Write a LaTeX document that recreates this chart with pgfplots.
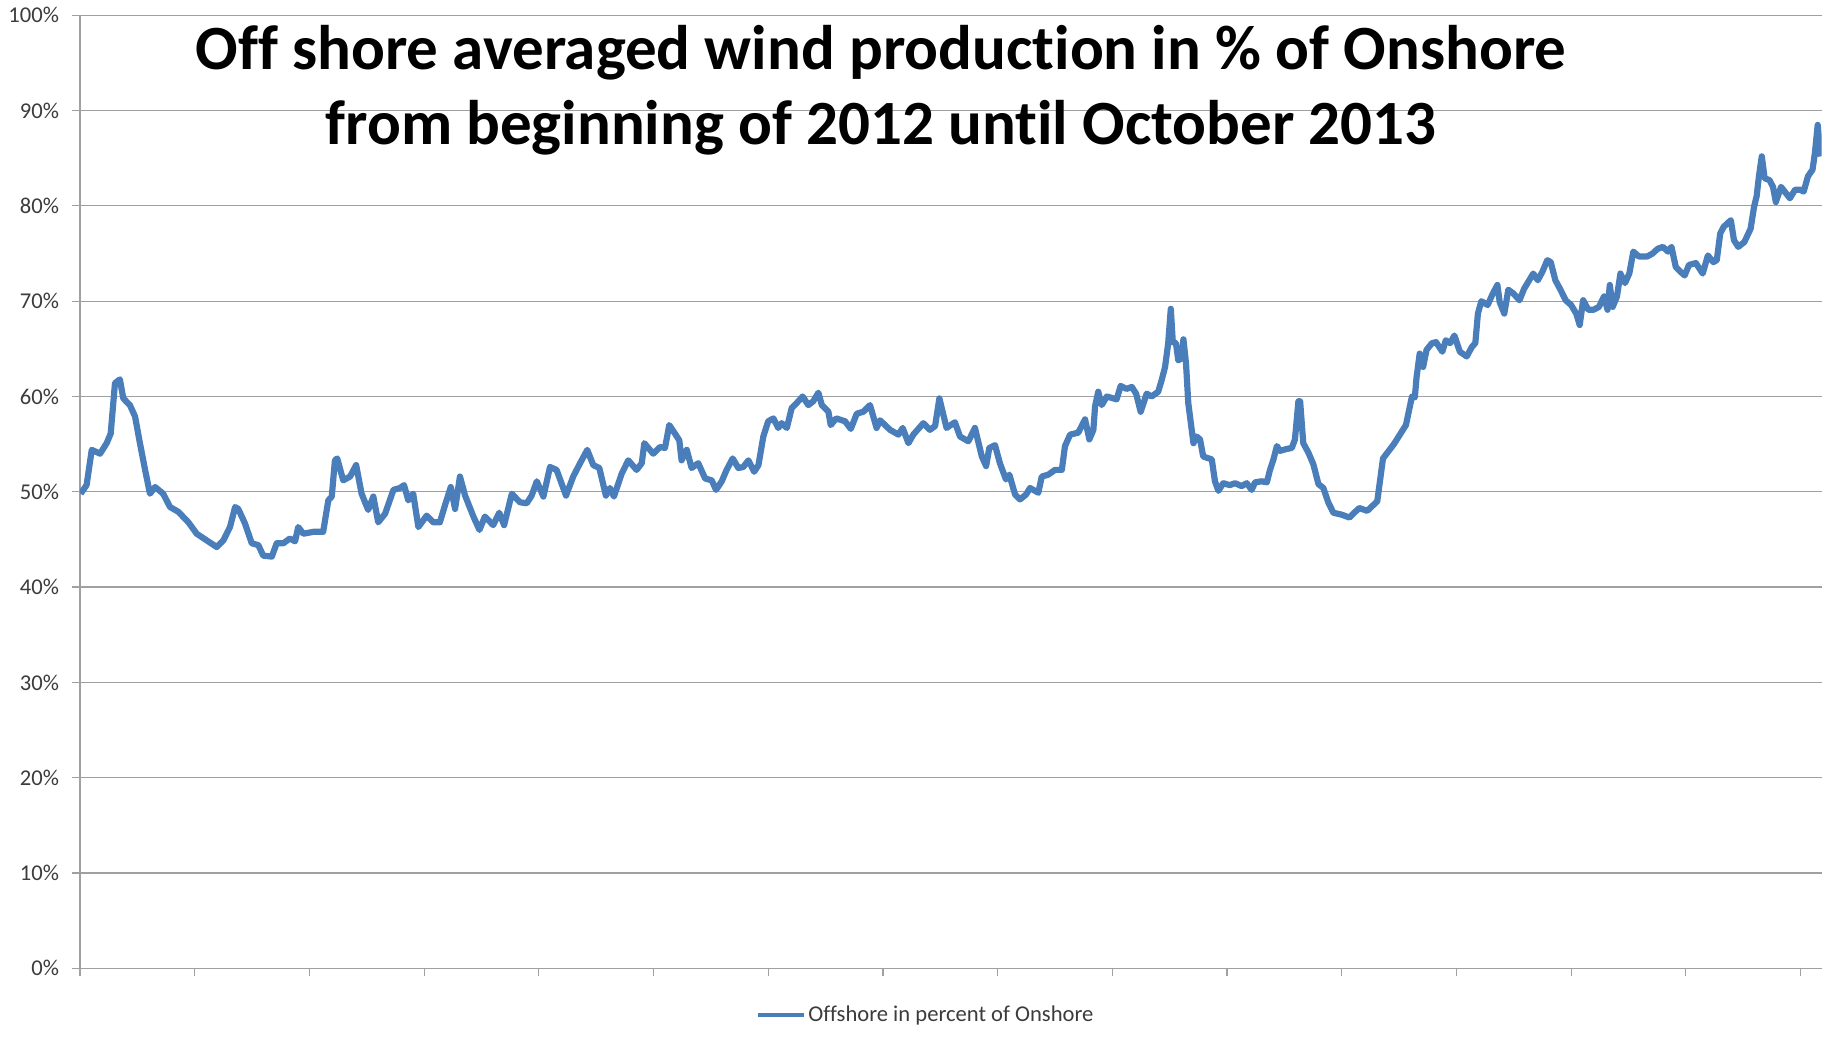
\documentclass[border=0pt]{standalone}
\usepackage{fontspec}
\setmainfont{Carlito}[Ligatures=NoCommon]
\usepackage{pgfplots}
\pgfplotsset{compat=1.18}
\usepackage{pgfplotstable}

\definecolor{linec}{RGB}{74,126,187}
\definecolor{gridc}{RGB}{160,160,160}
\definecolor{labc}{RGB}{60,60,60}

% day since 1 Jan 2012, offshore production in % of onshore
\pgfplotstableread{
day share
0.2 49.8
2.3 50.7
4.1 54.4
7.0 54.0
9.3 55.1
10.7 56.1
12.2 61.4
13.9 61.8
15.1 59.8
17.4 59.1
19.2 57.9
20.9 55.1
22.7 52.3
24.4 49.8
26.2 50.5
29.0 49.8
31.4 48.4
34.3 47.9
37.8 46.8
40.7 45.6
44.2 44.9
47.7 44.2
50.0 44.9
52.3 46.3
54.1 48.4
55.2 48.2
57.5 46.7
59.9 44.6
62.2 44.4
63.9 43.3
66.9 43.2
68.6 44.6
70.9 44.6
73.2 45.1
75.0 44.8
76.1 46.3
77.9 45.6
81.4 45.8
84.8 45.8
86.6 49.1
87.8 49.5
88.9 53.3
89.7 53.5
91.8 51.2
94.2 51.6
96.3 52.8
98.2 49.8
100.5 48.1
102.3 49.5
104.0 46.8
106.4 47.7
109.3 50.2
111.6 50.4
113.0 50.7
114.5 49.1
116.2 49.8
118.0 46.3
120.9 47.5
123.2 46.8
125.5 46.8
127.3 48.6
129.3 50.5
130.8 48.2
132.5 51.6
134.3 49.6
137.2 47.4
139.3 46.0
141.2 47.4
144.1 46.5
146.2 47.8
147.9 46.5
150.6 49.8
153.4 48.9
155.8 48.8
157.5 49.6
159.3 51.1
161.6 49.5
163.9 52.6
166.2 52.3
169.5 49.6
172.0 51.6
174.4 53.0
176.9 54.4
179.0 52.8
181.1 52.5
183.4 49.6
184.8 50.4
186.2 49.5
188.9 51.9
191.2 53.3
194.1 52.3
195.9 53.0
196.8 55.1
199.9 54.0
202.3 54.7
204.0 54.6
205.5 57.0
207.5 56.1
209.0 55.4
209.8 53.3
211.6 54.4
213.3 52.5
215.6 53.0
218.0 51.4
220.3 51.2
221.8 50.2
223.8 51.1
225.5 52.3
227.6 53.5
229.6 52.5
231.3 52.6
233.1 53.3
235.1 52.1
236.6 52.8
238.3 55.8
240.0 57.4
241.8 57.7
243.5 56.7
244.7 57.2
246.5 56.7
248.2 58.8
249.9 59.3
252.0 60.0
254.0 59.1
255.7 59.5
257.5 60.4
258.7 59.1
261.0 58.4
261.8 57.0
263.7 57.7
266.8 57.4
268.8 56.6
270.9 58.2
273.2 58.4
275.5 59.1
277.8 56.7
279.0 57.5
282.5 56.5
285.4 56.0
286.9 56.7
288.9 55.1
290.6 56.0
294.1 57.2
296.4 56.5
298.2 56.9
299.7 59.8
302.2 56.7
305.1 57.3
306.9 55.8
309.8 55.3
312.1 56.7
314.5 53.7
316.0 52.7
317.1 54.6
319.1 54.9
320.8 53.0
322.9 51.3
324.1 51.8
326.1 49.7
327.8 49.2
329.9 49.7
331.3 50.4
334.2 49.9
335.4 51.6
337.7 51.8
340.0 52.3
342.4 52.3
343.5 54.8
345.3 56.0
348.1 56.2
349.3 56.9
350.5 57.6
352.0 55.5
353.4 56.5
354.0 59.0
355.1 60.5
356.3 59.1
358.1 60.0
361.5 59.7
362.9 61.1
365.0 60.8
366.8 61.0
368.3 60.3
369.9 58.4
372.0 60.3
373.7 60.0
376.0 60.5
377.2 61.7
378.4 63.1
379.5 65.6
380.4 69.2
381.1 65.7
382.2 65.6
383.0 63.8
384.2 64.0
384.8 66.0
385.7 63.5
386.5 59.3
388.3 55.1
389.4 55.8
390.6 55.5
391.7 53.7
394.7 53.4
395.8 51.1
397.0 50.1
398.7 50.9
401.0 50.7
402.8 50.9
405.1 50.6
406.9 50.9
408.6 50.2
409.8 51.0
412.1 51.1
413.9 51.0
415.0 52.3
416.2 53.4
417.4 54.8
418.5 54.3
420.9 54.5
422.6 54.6
423.7 55.5
424.9 59.5
425.5 59.5
426.6 55.1
428.4 54.1
430.1 52.9
431.9 50.8
433.6 50.4
435.3 48.9
437.1 47.8
440.0 47.6
442.7 47.3
446.1 48.3
448.9 48.0
452.4 49.0
454.4 53.5
458.2 55.0
462.4 57.0
464.5 60.0
465.5 59.9
466.1 62.0
467.2 64.5
468.4 63.1
469.6 64.9
471.5 65.6
472.9 65.7
475.1 64.7
476.3 65.9
477.8 65.6
479.3 66.4
481.2 64.7
483.6 64.2
485.4 65.2
486.6 65.6
487.5 68.7
488.7 70.0
490.9 69.6
492.7 70.8
494.3 71.7
495.1 69.9
496.7 68.7
498.1 71.2
499.9 70.8
502.0 70.1
503.6 71.3
505.4 72.2
506.8 72.9
508.4 72.2
510.0 73.1
511.7 74.3
512.9 74.1
514.5 72.2
516.3 71.2
518.1 70.1
520.0 69.6
521.8 68.7
523.0 67.5
524.2 70.1
526.0 69.1
527.8 69.1
529.7 69.4
531.5 70.5
532.7 69.1
533.5 71.7
534.5 69.4
536.0 70.5
537.2 72.9
538.8 71.9
540.3 72.9
541.7 75.2
543.6 74.7
546.6 74.7
548.4 75.0
550.2 75.5
552.0 75.7
553.8 75.2
555.0 75.7
556.5 73.6
558.1 73.1
559.6 72.7
561.1 73.8
563.5 74.0
565.9 72.9
567.7 74.8
569.6 74.1
570.8 74.3
572.0 77.1
573.2 77.8
575.7 78.5
576.8 76.4
578.3 75.7
580.4 76.2
582.6 77.6
583.8 79.9
584.7 81.0
585.5 83.1
586.5 85.2
587.5 82.9
589.2 82.7
590.4 82.0
591.4 80.4
593.2 82.0
595.0 81.3
596.3 80.8
598.1 81.7
599.9 81.7
601.1 81.5
602.6 83.1
604.2 83.8
605.0 85.5
606.0 88.5
606.6 86.2
607.2 85.2
}\offshore

\begin{document}
\begin{tikzpicture}
\path[use as bounding box] (0,0) rectangle (922.5pt,522pt);
\begin{axis}[
    at={(40pt,37.85pt)}, anchor=south west,
    scale only axis,
    width=870.85pt, height=476.5pt,
    xmin=0, xmax=607.4,
    ymin=0, ymax=100,
    axis x line*=bottom,
    axis y line*=left,
    axis line style={gridc, line width=0.6pt, -},
    xtick={0,40,...,600},
    xticklabels={},
    ytick={0,10,...,100},
    yticklabel={\pgfmathprintnumber{\tick}\%},
    /pgf/number format/assume math mode=true,
    tick align=outside,
    major tick length=4pt,
    tick style={gridc, line width=0.6pt},
    ymajorgrids,
    grid style={gridc, line width=0.6pt},
    yticklabel style={font=\fontsize{11.3}{13}\selectfont, text=labc, inner sep=0pt, xshift=-6.3pt},
    legend style={
        draw=none, fill=none,
        at={(0.3881,-0.049)}, anchor=west,
        inner sep=0pt,
        font=\fontsize{11.3}{13}\selectfont, text=labc,
        nodes={inner sep=0pt},
        column sep=1.5pt,
    },
    legend image code/.code={\draw[linec, line width=1.7pt] (0pt,0pt) -- (22.85pt,0pt);},
]
\addplot[linec, line width=3.1pt, line join=round] table[x=day, y=share] {\offshore};
\legend{Offshore in percent of Onshore}
\end{axis}
\node[anchor=base, font=\fontsize{31.5}{38}\selectfont\bfseries] at (440.5pt,487pt)
    {Off shore averaged wind production in \% of Onshore};
\node[anchor=base, font=\fontsize{31.5}{38}\selectfont\bfseries] at (440.5pt,449.5pt)
    {from beginning of 2012 until October 2013};
\end{tikzpicture}
\end{document}
